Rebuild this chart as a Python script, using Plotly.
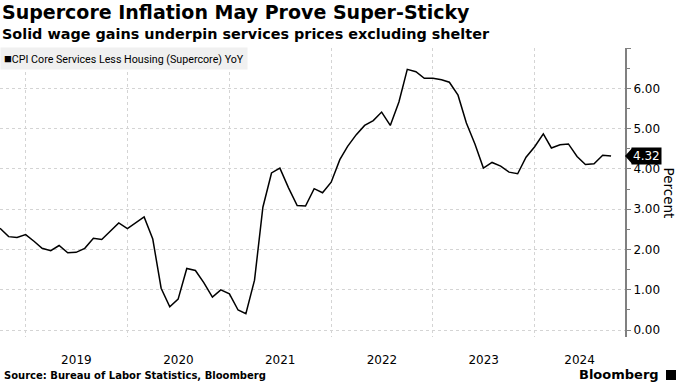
import plotly.graph_objects as go
import pandas as pd

# ---- data ----
start_month = "2018-10-01"
supercore_yoy = [
    2.53, 2.32, 2.30,                                              # 2018 Oct-Dec
    2.37, 2.20, 2.03, 1.97, 2.10, 1.92, 1.93, 2.03, 2.28, 2.25, 2.45, 2.66,  # 2019
    2.52, 2.66, 2.81, 2.26, 1.04, 0.58, 0.77, 1.53, 1.48, 1.18, 0.82, 1.00,  # 2020
    0.90, 0.50, 0.41, 1.24, 3.05, 3.90, 4.02, 3.53, 3.09, 3.08, 3.51, 3.41,  # 2021
    3.67, 4.23, 4.56, 4.85, 5.08, 5.20, 5.41, 5.08, 5.66, 6.47, 6.41, 6.25,  # 2022
    6.25, 6.21, 6.15, 5.83, 5.14, 4.61, 4.02, 4.16, 4.07, 3.92, 3.88, 4.29,  # 2023
    4.55, 4.87, 4.52, 4.60, 4.62, 4.31, 4.11, 4.13, 4.34, 4.32,              # 2024
]
months = pd.date_range(start_month, periods=len(supercore_yoy), freq="MS")

year_labels = ["2019", "2020", "2021", "2022", "2023", "2024"]
year_label_pos = ["2019-07-02", "2020-07-02", "2021-07-02", "2022-07-02", "2023-07-02", "2024-06-10"]
y_ticks = [0, 1, 2, 3, 4, 5, 6, 7]
y_ticktext = ["0.00", "1.00", "2.00", "3.00", "4.00", "5.00", "6.00", ""]

series_name = "CPI Core Services Less Housing (Supercore) YoY"
title = "Supercore Inflation May Prove Super-Sticky"
subtitle = "Solid wage gains underpin services prices excluding shelter"
source = "Source: Bureau of Labor Statistics, Bloomberg"

FONT = "DejaVu Sans"
GRID = "#d4d4d4"

fig = go.Figure()
fig.add_trace(go.Scatter(
    x=months, y=supercore_yoy, mode="lines",
    line=dict(color="#000000", width=1.5),
    name=series_name, showlegend=False, hoverinfo="x+y",
))

fig.update_layout(
    width=680, height=383,
    margin=dict(l=0, r=55, t=48, b=46),
    paper_bgcolor="white", plot_bgcolor="white",
    font=dict(family=FONT, color="#000000"),
    showlegend=False,
    xaxis=dict(
        type="date",
        range=["2018-10-01", "2024-11-20"],
        tickvals=year_label_pos, ticktext=year_labels,
        showgrid=False, zeroline=False, showline=False, ticks="",
        tickfont=dict(size=12, family=FONT, color="#000000"),
        ticklabelstandoff=14,
        minor=dict(tick0="2019-01-01", dtick="M12", showgrid=True,
                   gridcolor=GRID, griddash="dot", gridwidth=1, ticks=""),
    ),
    yaxis=dict(
        side="right",
        range=[-0.17, 7.0],
        tickvals=y_ticks, ticktext=y_ticktext,
        showgrid=True, gridcolor=GRID, griddash="dot", gridwidth=1,
        zeroline=False,
        showline=True, linecolor="#808080", linewidth=2,
        ticks="outside", ticklen=4, tickcolor="#808080", tickwidth=1,
        tickfont=dict(size=12, family=FONT, color="#000000"),
        minor=dict(dtick=0.5, tick0=0, ticks="outside", ticklen=3,
                   tickcolor="#808080", showgrid=False),
    ),
)

# Titles
fig.add_annotation(text=title, xref="paper", yref="paper", x=0, y=1,
                   xanchor="left", yanchor="top", showarrow=False,
                   font=dict(family=FONT, size=19, color="#000000", weight="bold"),
                   yshift=48 + 1)
fig.add_annotation(text=subtitle, xref="paper", yref="paper", x=0, y=1,
                   xanchor="left", yanchor="top", showarrow=False,
                   font=dict(family=FONT, size=14.4, color="#000000", weight="bold"),
                   yshift=48 - 24)
# Legend box
fig.add_annotation(text="<span style='font-size:13px'>\u25a0</span>" + series_name,
                   xref="paper", yref="paper", x=0, y=1,
                   xanchor="left", yanchor="top", showarrow=False,
                   bgcolor="#f0f0f0", borderpad=3,
                   font=dict(family="Roboto", size=10.7, color="#000000"),
                   yshift=1)
# Source
fig.add_annotation(text=source, xref="paper", yref="paper", x=0, y=0,
                   xanchor="left", yanchor="bottom", showarrow=False,
                   font=dict(family=FONT, size=10, color="#000000", weight="bold"),
                   yshift=-46, xshift=2)
# Bloomberg logo
fig.add_annotation(text="Bloomberg", xref="paper", yref="paper", x=1, y=0,
                   xanchor="right", yanchor="bottom", showarrow=False,
                   font=dict(family=FONT, size=13, color="#000000", weight="bold"),
                   yshift=-47, xshift=36)
fig.add_shape(type="rect", xref="paper", yref="paper",
              x0=1 + 41 / 625, x1=1 + 51 / 625, y0=-43 / 289, y1=-33 / 289,
              fillcolor="#000000", line=dict(width=0))
# Percent axis title
fig.add_annotation(text="Percent", xref="paper", yref="paper", x=1, y=0.5,
                   xanchor="center", yanchor="middle", showarrow=False, textangle=90,
                   font=dict(family=FONT, size=13.5, color="#000000"),
                   xshift=44)
# Last value tag
last_val = supercore_yoy[-1]
fig.add_annotation(text=f"{last_val:.2f}", xref="paper", yref="y", x=1, y=last_val,
                   xanchor="left", yanchor="middle", showarrow=False,
                   bgcolor="#000000", borderpad=1, xshift=6,
                   font=dict(family=FONT, size=12, color="#ffffff"))
fig.add_shape(type="path", xref="paper", yref="y",
              path=f"M 1.0,{last_val} L {1 + 7/625},{last_val + 0.19} L {1 + 7/625},{last_val - 0.19} Z",
              fillcolor="#000000", line=dict(width=0))

fig.write_html("out.html", config={"displayModeBar": False},
               post_script="document.body.style.margin='0';document.body.style.padding='0';")
